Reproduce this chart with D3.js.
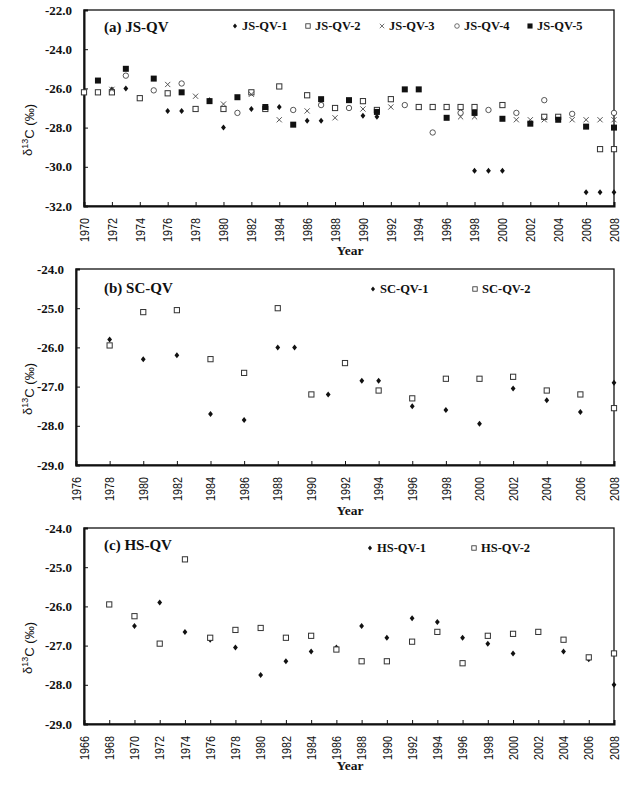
<!DOCTYPE html>
<html>
<head>
<meta charset="utf-8">
<script src="https://cdn.jsdelivr.net/npm/d3@7"></script>
<style>
  html, body { margin: 0; padding: 0; background: #fff; }
  svg { display: block; }
</style>
</head>
<body>
<div id="chart"></div>
<script>
// δ13C records of three QV sites, one scatter panel per site.

// ---- data: [year, δ13C] ----
const JS_QV_1 = [[1972,-26.05],[1973,-26.0],[1976,-27.15],[1977,-27.15],[1979,-26.6],[1980,-28.0],[1982,-27.05],[1984,-26.95],[1986,-27.65],[1987,-27.65],[1990,-27.4],[1991,-27.45],[1998,-30.2],[1999,-30.2],[2000,-30.2],[2006,-31.3],[2007,-31.3],[2008,-31.3]];
const JS_QV_2 = [[1970,-26.2],[1971,-26.2],[1972,-26.2],[1974,-26.5],[1976,-26.25],[1978,-27.05],[1980,-27.05],[1982,-26.2],[1983,-27.05],[1984,-25.9],[1986,-26.35],[1988,-27.0],[1990,-26.65],[1991,-27.1],[1992,-26.55],[1994,-26.95],[1995,-26.95],[1996,-26.95],[1997,-26.95],[1998,-26.95],[2000,-26.85],[2003,-27.45],[2004,-27.45],[2007,-29.1],[2008,-29.1]];
const JS_QV_3 = [[1972,-26.05],[1976,-25.8],[1978,-26.4],[1980,-26.8],[1982,-26.3],[1984,-27.6],[1986,-27.15],[1988,-27.5],[1990,-27.05],[1992,-26.95],[1997,-27.45],[1998,-27.45],[2001,-27.6],[2002,-27.6],[2003,-27.6],[2005,-27.6],[2006,-27.6],[2007,-27.6],[2008,-27.6]];
const JS_QV_4 = [[1973,-25.35],[1975,-26.1],[1977,-25.75],[1981,-27.25],[1985,-27.1],[1987,-26.85],[1989,-27.0],[1993,-26.85],[1995,-28.25],[1997,-27.25],[1999,-27.1],[2001,-27.25],[2003,-26.6],[2005,-27.3],[2008,-27.25]];
const JS_QV_5 = [[1971,-25.6],[1973,-25.0],[1975,-25.5],[1977,-26.2],[1979,-26.65],[1981,-26.45],[1983,-26.95],[1985,-27.85],[1987,-26.55],[1989,-26.6],[1991,-27.2],[1993,-26.05],[1994,-26.05],[1996,-27.5],[1998,-27.25],[2000,-27.55],[2002,-27.8],[2004,-27.6],[2006,-27.95],[2008,-28.0]];

const SC_QV_1 = [[1978,-25.8],[1980,-26.3],[1982,-26.2],[1984,-27.7],[1986,-27.85],[1988,-26.0],[1989,-26.0],[1991,-27.2],[1993,-26.85],[1994,-26.85],[1996,-27.5],[1998,-27.6],[2000,-27.95],[2002,-27.05],[2004,-27.35],[2006,-27.65],[2008,-26.9]];
const SC_QV_2 = [[1978,-25.95],[1980,-25.1],[1982,-25.05],[1984,-26.3],[1986,-26.65],[1988,-25.0],[1990,-27.2],[1992,-26.4],[1994,-27.1],[1996,-27.3],[1998,-26.8],[2000,-26.8],[2002,-26.75],[2004,-27.1],[2006,-27.2],[2008,-27.55]];

const HS_QV_1 = [[1970,-26.5],[1972,-25.9],[1974,-26.65],[1976,-26.85],[1978,-27.05],[1980,-27.75],[1982,-27.4],[1984,-27.15],[1986,-27.05],[1988,-26.5],[1990,-26.8],[1992,-26.3],[1994,-26.4],[1996,-26.8],[1998,-26.95],[2000,-27.2],[2004,-27.15],[2006,-27.35],[2008,-28.0]];
const HS_QV_2 = [[1968,-25.95],[1970,-26.25],[1972,-26.95],[1974,-24.8],[1976,-26.8],[1978,-26.6],[1980,-26.55],[1982,-26.8],[1984,-26.75],[1986,-27.1],[1988,-27.4],[1990,-27.4],[1992,-26.9],[1994,-26.65],[1996,-27.45],[1998,-26.75],[2000,-26.7],[2002,-26.65],[2004,-26.85],[2006,-27.3],[2008,-27.2]];

// axis ranges / tick labels
const A_YEAR_TICKS = d3.range(1970, 2009, 2);
const B_YEAR_TICKS = d3.range(1976, 2009, 2);
const C_YEAR_TICKS = d3.range(1966, 2009, 2);
const A_VALUE_TICKS = [-22, -24, -26, -28, -30, -32];
const BC_VALUE_TICKS = [-24, -25, -26, -27, -28, -29];

const SERIF = "'Liberation Serif', 'Times New Roman', serif";
const SANS = "'Liberation Sans', Arial, sans-serif";

// ---- marker shapes ----
const markers = {
  diamond: g => g.append("path").attr("d", "M0,-3L2.4,0L0,3L-2.4,0Z").attr("fill", "#111"),
  square: g => g.append("rect").attr("x", -2.6).attr("y", -2.6).attr("width", 5.2).attr("height", 5.2)
    .attr("fill", "#fff").attr("stroke", "#333").attr("stroke-width", 1),
  cross: g => g.append("path").attr("d", "M-2.6,-2.6L2.6,2.6M-2.6,2.6L2.6,-2.6")
    .attr("fill", "none").attr("stroke", "#444").attr("stroke-width", 0.9),
  circle: g => g.append("circle").attr("r", 2.7)
    .attr("fill", "#fff").attr("stroke", "#444").attr("stroke-width", 0.9),
  filled: g => g.append("rect").attr("x", -3).attr("y", -3).attr("width", 6).attr("height", 6).attr("fill", "#111")
};

const panels = [
  {
    title: "(a) JS-QV", top: 10, left: 84, xDomain: [1970, 2008], yDomain: [-32, -22],
    xTicks: A_YEAR_TICKS, yTicks: A_VALUE_TICKS, yearDy: 49, legendDy: 20, titleDy: 22,
    series: [
      { name: "JS-QV-1", data: JS_QV_1, marker: "diamond", lx: 235 },
      { name: "JS-QV-2", data: JS_QV_2, marker: "square", lx: 308 },
      { name: "JS-QV-3", data: JS_QV_3, marker: "cross", lx: 382 },
      { name: "JS-QV-4", data: JS_QV_4, marker: "circle", lx: 457 },
      { name: "JS-QV-5", data: JS_QV_5, marker: "filled", lx: 530 }
    ]
  },
  {
    title: "(b) SC-QV", top: 269, left: 76, xDomain: [1976, 2008], yDomain: [-29, -24],
    xTicks: B_YEAR_TICKS, yTicks: BC_VALUE_TICKS, yearDy: 50, legendDy: 24, titleDy: 24,
    series: [
      { name: "SC-QV-1", data: SC_QV_1, marker: "diamond", lx: 373 },
      { name: "SC-QV-2", data: SC_QV_2, marker: "square", lx: 475 }
    ]
  },
  {
    title: "(c) HS-QV", top: 528, left: 84, xDomain: [1966, 2008], yDomain: [-29, -24],
    xTicks: C_YEAR_TICKS, yTicks: BC_VALUE_TICKS, yearDy: 46, legendDy: 24, titleDy: 22,
    series: [
      { name: "HS-QV-1", data: HS_QV_1, marker: "diamond", lx: 370 },
      { name: "HS-QV-2", data: HS_QV_2, marker: "square", lx: 474 }
    ]
  }
];

const W = 634, H = 792;
const RIGHT = 614, PANEL_H = 196;

const svg = d3.select("#chart").append("svg")
  .attr("width", W).attr("height", H)
  .style("background", "#fff");

panels.forEach(p => {
  const bottom = p.top + PANEL_H;
  const x = d3.scaleLinear().domain(p.xDomain).range([p.left, RIGHT]);
  const y = d3.scaleLinear().domain(p.yDomain).range([bottom, p.top]);

  const g = svg.append("g");

  // frame
  g.append("rect")
    .attr("x", p.left).attr("y", p.top)
    .attr("width", RIGHT - p.left).attr("height", PANEL_H)
    .attr("fill", "none").attr("stroke", "#111").attr("stroke-width", 1.3);

  // y axis (ticks inward, bold serif labels)
  const yAxis = g.append("g")
    .attr("transform", `translate(${p.left},0)`)
    .call(d3.axisRight(y).tickValues(p.yTicks).tickSize(4).tickFormat(""));
  yAxis.select(".domain").attr("stroke", "#111").attr("stroke-width", 2);
  yAxis.selectAll(".tick line").attr("stroke", "#111");

  g.selectAll(".ylab")
    .data(p.yTicks)
    .enter().append("text")
    .attr("x", p.left - 12)
    .attr("y", d => y(d))
    .attr("dy", "0.35em")
    .attr("text-anchor", "end")
    .style("font-family", SERIF)
    .style("font-weight", "bold")
    .style("font-size", "13px")
    .attr("fill", "#111")
    .text(d => d3.format(".1f")(d).replace("−", "-"));

  // x axis (ticks inward, rotated sans labels)
  const xAxis = g.append("g")
    .attr("transform", `translate(0,${bottom})`)
    .call(d3.axisTop(x).tickValues(p.xTicks).tickSize(4).tickFormat(""));
  xAxis.select(".domain").attr("stroke", "#111").attr("stroke-width", 2);
  xAxis.selectAll(".tick line").attr("stroke", "#111");

  g.selectAll(".xlab")
    .data(p.xTicks)
    .enter().append("text")
    .attr("transform", d => `translate(${x(d)},${bottom + 12}) rotate(-90) scale(0.8,1)`)
    .attr("dy", "0.35em")
    .attr("text-anchor", "end")
    .style("font-family", SANS)
    .style("font-size", "13.5px")
    .attr("fill", "#111")
    .text(d => d);

  // axis titles
  g.append("text")
    .attr("x", 350).attr("y", bottom + p.yearDy)
    .attr("text-anchor", "middle")
    .style("font-family", SERIF).style("font-weight", "bold").style("font-size", "13.5px")
    .attr("fill", "#111")
    .text("Year");

  const yt = g.append("text")
    .attr("transform", `translate(32,${p.top + PANEL_H / 2 + 22}) rotate(-90)`)
    .attr("text-anchor", "middle")
    .style("font-family", SANS).style("font-size", "13px")
    .attr("fill", "#111");
  yt.append("tspan").text("δ");
  yt.append("tspan").attr("dy", "-0.4em").style("font-size", "9px").text("13");
  yt.append("tspan").attr("dy", "0.4em").text("C (‰)");

  // panel title
  g.append("text")
    .attr("x", 104).attr("y", p.top + p.titleDy)
    .style("font-family", SERIF).style("font-weight", "bold").style("font-size", "15px")
    .attr("fill", "#111")
    .text(p.title);

  // points
  p.series.forEach(s => {
    s.data.forEach(([yr, v]) => {
      const m = g.append("g").attr("transform", `translate(${x(yr)},${y(v)})`);
      markers[s.marker](m);
    });

    // legend entry
    const ly = p.top + p.legendDy;
    const lm = g.append("g").attr("transform", `translate(${s.lx},${ly - 4}) scale(0.85)`);
    markers[s.marker](lm);
    g.append("text")
      .attr("x", s.lx + 7).attr("y", ly)
      .style("font-family", SERIF).style("font-weight", "bold").style("font-size", "12.5px")
      .attr("fill", "#111")
      .text(s.name);
  });
});
</script>
</body>
</html>
